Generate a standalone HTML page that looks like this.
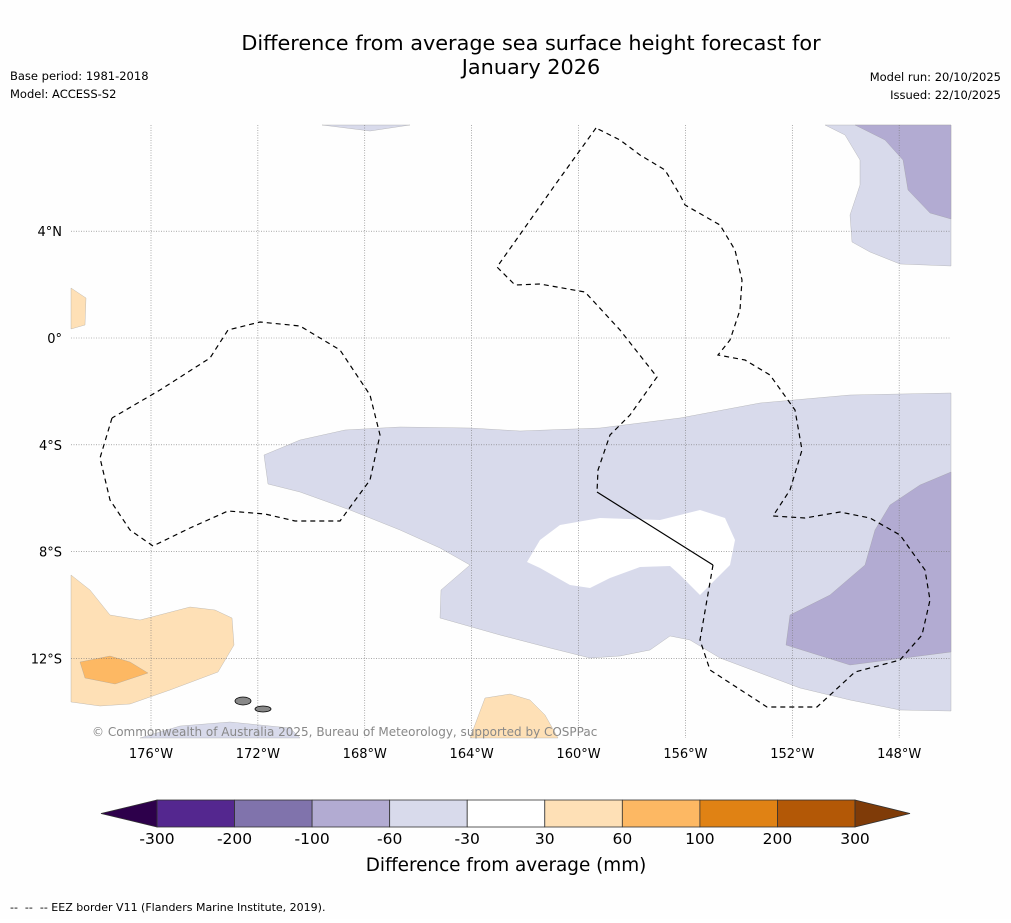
<!DOCTYPE html>
<html><head><meta charset="utf-8"><style>
body{margin:0;background:#fff;width:1011px;height:919px;overflow:hidden;font-family:"DejaVu Sans","Liberation Sans",sans-serif}
</style></head><body>
<svg id="s" width="1011" height="919" xmlns="http://www.w3.org/2000/svg">
<rect width="1011" height="919" fill="#fefefe"/>
<text x="531" y="50" font-size="20.8" text-anchor="middle">Difference from average sea surface height forecast for</text>
<text x="531" y="74" font-size="20.8" text-anchor="middle">January 2026</text>
<text x="10" y="80" font-size="11.5">Base period: 1981-2018</text>
<text x="10" y="98" font-size="11.5">Model: ACCESS-S2</text>
<text x="1001" y="81" font-size="11.5" text-anchor="end">Model run: 20/10/2025</text>
<text x="1001" y="99" font-size="11.5" text-anchor="end">Issued: 22/10/2025</text>
<g id="map"></g>
<g id="cb"></g>
<text x="506" y="871" font-size="18.4" text-anchor="middle">Difference from average (mm)</text>
<text x="10" y="911" font-size="11" xml:space="preserve">--  --  -- EEZ border V11 (Flanders Marine Institute, 2019).</text>
</svg>
<script>
const lonTicks=[-176,-172,-168,-164,-160,-156,-152,-148];
const lonLabels=["176°W","172°W","168°W","164°W","160°W","156°W","152°W","148°W"];
const latTicks=[4,0,-4,-8,-12];
const latLabels=["4°N","0°","4°S","8°S","12°S"];
const levels=[-300,-200,-100,-60,-30,30,60,100,200,300];
const levelColors=["#54278f","#8073ac","#b2abd2","#d8daeb","#ffffff","#fee0b6","#fdb863","#e08214","#b35806"];
const extColors=["#2d004b","#7f3b08"];
const NS="http://www.w3.org/2000/svg";
const X0=71,X1=951,Y0=125,Y1=738;
function xs(lon){return 151+(lon+176)*26.72;}
function ys(lat){return 338-lat*26.7;}
function mk(t,a,p){const e=document.createElementNS(NS,t);for(const k in a)e.setAttribute(k,a[k]);p.appendChild(e);return e;}
const map=document.getElementById('map');
function P(px){return px.map(([x,y])=>[-176+(x-151)/26.72,-(y-338)/26.7]);}
const shapes=[
["#d8daeb",P([[264,455],[300,440],[345,430],[400,427],[470,428],[520,431],[600,428],[680,418],[760,403],[850,395],[951,393],[951,711],[900,710],[850,700],[800,688],[720,658],[690,640],[670,636],[650,650],[620,656],[590,658],[550,648],[500,635],[440,618],[441,590],[470,565],[440,548],[400,530],[350,510],[300,492],[268,484]]),"light-purple-band"],
["#ffffff",P([[540,540],[560,525],[600,518],[660,520],[700,510],[725,518],[735,540],[730,565],[700,595],[680,575],[670,566],[640,567],[610,578],[590,588],[570,585],[540,568],[527,562]]),"neutral-patch"],
["#b2abd2",P([[951,472],[920,485],[890,505],[875,530],[865,565],[830,595],[790,615],[786,645],[850,665],[951,652]]),"purple-southeast"],
["#d8daeb",P([[825,125],[951,125],[951,266],[900,264],[870,252],[852,242],[850,215],[860,185],[860,160],[845,135]]),"light-purple-northeast"],
["#b2abd2",P([[855,125],[951,125],[951,219],[930,213],[908,190],[903,160],[885,140]]),"purple-northeast"],
["#d8daeb",P([[322,125],[410,125],[370,131]]),"light-purple-top"],
["#d8daeb",P([[140,738],[180,726],[230,722],[290,728],[300,738]]),"light-purple-bottom"],
["#fee0b6",P([[71,575],[90,590],[110,615],[140,620],[190,607],[215,610],[232,618],[234,645],[218,672],[170,690],[130,704],[100,706],[71,702]]),"orange-southwest"],
["#fdb863",P([[80,662],[110,656],[130,662],[148,673],[115,684],[85,678]]),"dark-orange-southwest"],
["#fee0b6",P([[71,288],[86,298],[85,325],[71,329]]),"orange-west"],
["#fee0b6",P([[470,738],[485,698],[510,694],[530,700],[545,715],[558,738]]),"orange-south"]
];
for(const [c,pts,n] of shapes){
 const el=mk('polygon',{points:pts.map(([lo,la])=>xs(lo).toFixed(1)+','+ys(la).toFixed(1)).join(' '),fill:c,stroke:c==="#ffffff"?"none":"#999","stroke-width":c==="#ffffff"?0:0.3},map);
 
 
}
lonTicks.forEach((lo,i)=>{
 const g=mk('line',{x1:xs(lo),x2:xs(lo),y1:Y0,y2:Y1,stroke:"#777","stroke-width":0.6,"stroke-dasharray":"1,1.5"},map);
 
 
 const t=mk('text',{x:xs(lo),y:758,"font-size":13,"text-anchor":"middle"},map);t.textContent=lonLabels[i];
 
 
});
latTicks.forEach((la,i)=>{
 const g=mk('line',{x1:X0,x2:X1,y1:ys(la),y2:ys(la),stroke:"#777","stroke-width":0.6,"stroke-dasharray":"1,1.5"},map);
 
 
 const t=mk('text',{x:62,y:ys(la)+5,"font-size":13,"text-anchor":"end"},map);t.textContent=latLabels[i];
 
 
});
const eez=[
[[112,418],[100,458],[110,500],[130,530],[153,546],[190,528],[228,511],[265,514],[295,521],[340,521],[370,480],[380,435],[370,395],[340,350],[300,326],[260,322],[228,330],[210,358],[160,390],[112,418]],
[[596,128],[555,185],[497,267],[515,285],[540,284],[585,292],[620,330],[657,377],[630,415],[610,435],[598,470],[597,492]],
[[713,565],[700,640],[710,670],[767,707],[817,707],[855,672],[900,660],[922,635],[930,600],[925,570],[900,535],[870,518],[840,512],[805,518],[773,516],[790,490],[802,450],[795,410],[770,375],[745,360],[718,355],[730,340],[740,310],[742,280],[735,250],[720,225],[685,205],[680,195],[665,170],[640,155],[620,140],[596,128]]
];
eez.forEach(l=>{const e=mk('polyline',{points:l.map(p=>p.join(',')).join(' '),fill:"none",stroke:"#000","stroke-width":1.2,"stroke-dasharray":"5,4"},map);
 
 });
const sl=mk('line',{x1:597,y1:492,x2:713,y2:565,stroke:"#000","stroke-width":1.2},map);


[[243,701,8,4],[263,709,8,3]].forEach(([x,y,rx,ry])=>{const e=mk('ellipse',{cx:x,cy:y,rx:rx,ry:ry,fill:"#888",stroke:"#000","stroke-width":0.8},map);
 
 });
const cp=mk('text',{x:92,y:736,"font-size":12,fill:"#888"},map);
cp.textContent="© Commonwealth of Australia 2025, Bureau of Meteorology, supported by COSPPac";


const cb=document.getElementById('cb');
const B0=157,B1=855,CY0=800,CY1=827,n=levels.length-1,w=(B1-B0)/n;
for(let i=0;i<n;i++){
 const r=mk('rect',{x:B0+i*w,y:CY0,width:w,height:CY1-CY0,fill:levelColors[i],stroke:"#333","stroke-width":0.8},cb);
 
 
}
const l=mk('polygon',{points:`${B0},${CY0} ${B0},${CY1} 101,813.5`,fill:extColors[0],stroke:"#333","stroke-width":0.8},cb);


const r=mk('polygon',{points:`${B1},${CY0} ${B1},${CY1} 910,813.5`,fill:extColors[1],stroke:"#333","stroke-width":0.8},cb);


levels.forEach((v,i)=>{const t=mk('text',{x:B0+i*w,y:844,"font-size":15.5,"text-anchor":"middle"},cb);t.textContent=v;
 
 });
</script>
</body></html>
